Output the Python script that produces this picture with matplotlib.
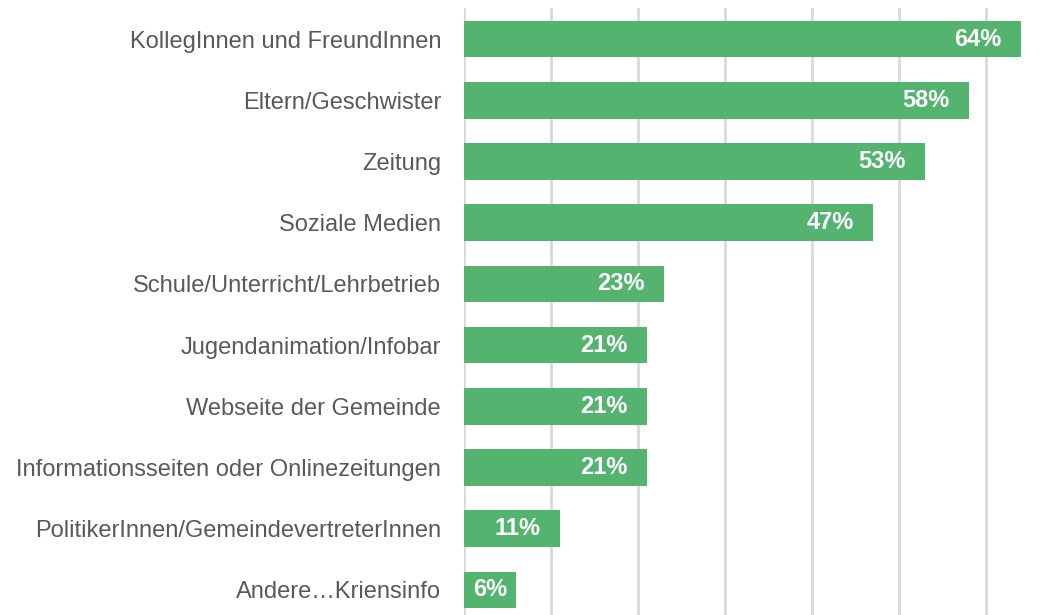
import matplotlib
matplotlib.use("Agg")
import matplotlib.pyplot as plt

categories = ["KollegInnen und FreundInnen", "Eltern/Geschwister", "Zeitung", "Soziale Medien",
              "Schule/Unterricht/Lehrbetrieb", "Jugendanimation/Infobar", "Webseite der Gemeinde",
              "Informationsseiten oder Onlinezeitungen", "PolitikerInnen/GemeindevertreterInnen",
              "Andere\u2026Kriensinfo"]
values = [64, 58, 53, 47, 23, 21, 21, 21, 11, 6]
ticks = [0, 10, 20, 30, 40, 50, 60]

plt.rcParams['font.family'] = ['Liberation Sans', 'DejaVu Sans']
fig = plt.figure(figsize=(10.6, 6.15), dpi=100)
ax = fig.add_axes([464/1060, 0, 1 - 464/1060, (615-8)/615])

green = "#54b36f"
ypos = list(range(len(categories)))
ax.barh(ypos, values, height=0.6, color=green, zorder=3)
ax.set_ylim(9.41, -0.507)
ax.set_xlim(0, 68.5)
ax.set_xticks(ticks)
ax.xaxis.grid(True, color="#d9d9d9", linewidth=2, zorder=0)
ax.tick_params(axis='x', bottom=False, labelbottom=False)
ax.tick_params(axis='y', left=False, pad=13)
ax.set_yticks(ypos)
ax.set_yticklabels(categories, fontsize=17, color="#595959")
for s in ax.spines.values():
    s.set_visible(False)

for y, v in zip(ypos, values):
    if v < 10:
        ax.text(v / 2, y, f"{v}%", ha='center', va='center', color='white',
                fontsize=17, fontweight='bold', zorder=4)
    else:
        ax.annotate(f"{v}%", xy=(v, y), xytext=(-14, 0), textcoords='offset points',
                    ha='right', va='center', color='white', fontsize=17,
                    fontweight='bold', zorder=4)

fig.savefig("out.png", dpi=100)
